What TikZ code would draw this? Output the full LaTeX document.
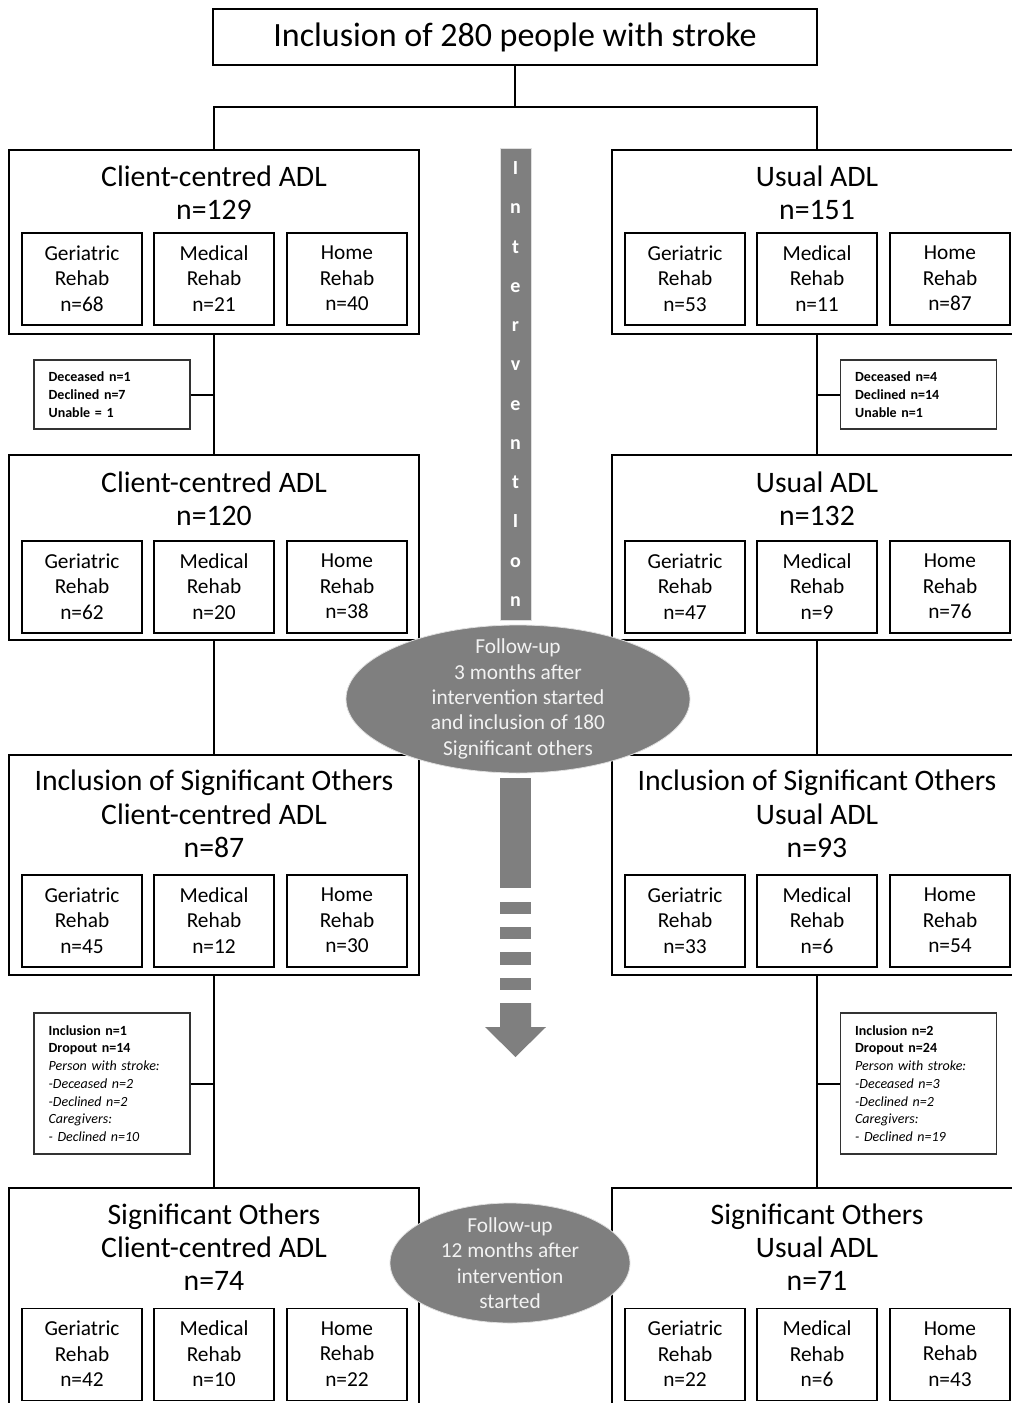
\documentclass[tikz,border=0pt]{standalone}
\usepackage{fontspec}
\setmainfont{Carlito}
\usepackage{tikz}
\usetikzlibrary{shapes.geometric}
\definecolor{flowgray}{RGB}{127,127,127}
\definecolor{ovaltext}{RGB}{242,242,242}

\begin{document}
\begin{tikzpicture}[x=0.75pt,y=-0.75pt,
                grp/.style={rectangle, draw, line width=1.5pt, minimum width=307.5pt},
                sub/.style={rectangle, draw, line width=0.8pt, minimum width=90pt, minimum height=69pt,
                            inner sep=0pt, align=center, font=\fontsize{16}{19}\selectfont,
                            execute at begin node=\rule{0pt}{12pt}, execute at end node=\rule[-1pt]{0pt}{1pt}},
                head/.style={align=center, font=\fontsize{22.3}{25}\selectfont},
                drop/.style={rectangle, draw=black!80, line width=0.8pt, minimum width=117pt,
                             text width=95pt, inner xsep=11pt, align=left, font=\fontsize{10.5}{13.3}\selectfont},
                oval/.style={ellipse, fill=flowgray, draw=white!75!flowgray, line width=0.6pt},
                ovaltxt/.style={text=ovaltext, align=center, font=\fontsize{16}{19}\selectfont},
                bar/.style={rectangle, fill=flowgray, draw=white!75!flowgray, line width=0.5pt, inner sep=0pt,
                            minimum width=23.25pt, minimum height=354pt, text=white, align=center,
                            font=\bfseries\fontsize{15}{29.45}\selectfont},
                link/.style={line width=1.5pt}]
                \useasboundingbox (0,0) rectangle (1011,1403);
                % top of the flow
                \node [rectangle, draw, line width=1.5pt, minimum width=453pt, minimum height=42pt,
                       font=\fontsize{25.5}{28}\selectfont] (incl) at (515,37) {Inclusion of 280 people with stroke};
                \coordinate (split) at (515,107);
                % intervention bar
                \node [bar] (bar) at (515.5,384) {I\\n\\t\\e\\r\\v\\e\\n\\t\\I\\o\\n};
                % start of the intervention
                \node [grp, minimum height=138pt] (cc1) at (214,242) {};
                \node [head] (cc1h) at (214,193) {Client-centred ADL\\n=129};
                \node [sub] (cc1g) at (82,279) {Geriatric\\Rehab\\n=68};
                \node [sub] (cc1m) at (214,279) {Medical\\Rehab\\n=21};
                \node [sub] (cc1r) at (347,279) {Home\\Rehab\\n=40};
                \node [grp, minimum height=138pt] (ua1) at (817,242) {};
                \node [head] (ua1h) at (817,193) {Usual ADL\\n=151};
                \node [sub] (ua1g) at (685,279) {Geriatric\\Rehab\\n=53};
                \node [sub] (ua1m) at (817,279) {Medical\\Rehab\\n=11};
                \node [sub] (ua1r) at (950,279) {Home\\Rehab\\n=87};
                % dropouts before 3 months
                \node [drop, minimum height=51.75pt] (dl1) at (112,394.5)
                      {\textbf{Deceased n=1}\\\textbf{Declined n=7}\\\textbf{Unable = 1}};
                \node [drop, minimum height=51.75pt] (dr1) at (918.5,394.5)
                      {\textbf{Deceased n=4}\\\textbf{Declined n=14}\\\textbf{Unable n=1}};
                % 3 months
                \node [grp, minimum height=138.75pt] (cc2) at (214,547.5) {};
                \node [head] (cc2h) at (214,498.5) {Client-centred ADL\\n=120};
                \node [sub] (cc2g) at (82,587) {Geriatric\\Rehab\\n=62};
                \node [sub] (cc2m) at (214,587) {Medical\\Rehab\\n=20};
                \node [sub] (cc2r) at (347,587) {Home\\Rehab\\n=38};
                \node [grp, minimum height=138.75pt] (ua2) at (817,547.5) {};
                \node [head] (ua2h) at (817,498.5) {Usual ADL\\n=132};
                \node [sub] (ua2g) at (685,587) {Geriatric\\Rehab\\n=47};
                \node [sub] (ua2m) at (817,587) {Medical\\Rehab\\n=9};
                \node [sub] (ua2r) at (950,587) {Home\\Rehab\\n=76};
                % significant others included
                \node [grp, minimum height=165pt] (so3l) at (214,865) {};
                \node [head] (so3lh) at (214,814) {Inclusion of Significant Others\\Client-centred ADL\\n=87};
                \node [sub] (so3lg) at (82,921) {Geriatric\\Rehab\\n=45};
                \node [sub] (so3lm) at (214,921) {Medical\\Rehab\\n=12};
                \node [sub] (so3lr) at (347,921) {Home\\Rehab\\n=30};
                \node [grp, minimum height=165pt] (so3r) at (817,865) {};
                \node [head] (so3rh) at (817,814) {Inclusion of Significant Others\\Usual ADL\\n=93};
                \node [sub] (so3rg) at (685,921) {Geriatric\\Rehab\\n=33};
                \node [sub] (so3rm) at (817,921) {Medical\\Rehab\\n=6};
                \node [sub] (so3rr) at (950,921) {Home\\Rehab\\n=54};
                % dropouts before 12 months
                \node [drop, minimum height=105.75pt] (dl3) at (112,1083.5)
                      {\textbf{Inclusion n=1}\\\textbf{Dropout n=14}\\\textit{Person with stroke:}\\
                       \textit{-Deceased n=2}\\\textit{-Declined n=2}\\\textit{Caregivers:}\\\textit{- Declined n=10}};
                \node [drop, minimum height=105.75pt] (dr3) at (918.5,1083.5)
                      {\textbf{Inclusion n=2}\\\textbf{Dropout n=24}\\\textit{Person with stroke:}\\
                       \textit{-Deceased n=3}\\\textit{-Declined n=2}\\\textit{Caregivers:}\\\textit{- Declined n=19}};
                % 12 months
                \node [grp, minimum height=168pt] (so4l) at (214,1300) {};
                \node [head] (so4lh) at (214,1247) {Significant Others\\Client-centred ADL\\n=74};
                \node [sub] (so4lg) at (82,1354.5) {Geriatric\\Rehab\\n=42};
                \node [sub] (so4lm) at (214,1354.5) {Medical\\Rehab\\n=10};
                \node [sub] (so4lr) at (347,1354.5) {Home\\Rehab\\n=22};
                \node [grp, minimum height=168pt] (so4r) at (817,1300) {};
                \node [head] (so4rh) at (817,1247) {Significant Others\\Usual ADL\\n=71};
                \node [sub] (so4rg) at (685,1354.5) {Geriatric\\Rehab\\n=22};
                \node [sub] (so4rm) at (817,1354.5) {Medical\\Rehab\\n=6};
                \node [sub] (so4rr) at (950,1354.5) {Home\\Rehab\\n=43};
                % connectors
                \draw [link] (incl.south) -- (split);
                \draw [link] (cc1.north) |- (split) -| (ua1.north);
                \draw [link] (cc1.south) -- (cc2.north);
                \draw [link] (ua1.south) -- (ua2.north);
                \draw [link] (cc2.south) -- (so3l.north);
                \draw [link] (ua2.south) -- (so3r.north);
                \draw [link] (so3l.south) -- (so4l.north);
                \draw [link] (so3r.south) -- (so4r.north);
                \draw [link] (dl1.east) -- (dl1.east -| cc1.south);
                \draw [link] (dr1.west) -- (dr1.west -| ua1.south);
                \draw [link] (dl3.east) -- (dl3.east -| so3l.south);
                \draw [link] (dr3.west) -- (dr3.west -| so3r.south);
                % dashed arrow after 3 months
                \fill [flowgray] (500,778) rectangle (531,888);
                \fill [flowgray] (500,902) rectangle (531,914);
                \fill [flowgray] (500,927) rectangle (531,939);
                \fill [flowgray] (500,952) rectangle (531,965);
                \fill [flowgray] (500,978) rectangle (531,990);
                \fill [flowgray] (500,1003) -- (531,1003) -- (531,1027) -- (546,1027) -- (515.5,1057)
                                 -- (485,1027) -- (500,1027) -- cycle;
                % follow-ups
                \node [oval, minimum width=258pt, minimum height=111pt] (fu3) at (518,699) {};
                \node [ovaltxt] (fu3t) at (fu3.center)
                      {Follow-up\\3 months after\\intervention started\\and inclusion of 180\\Significant others};
                \node [oval, minimum width=180pt, minimum height=90pt] (fu12) at (510,1263) {};
                \node [ovaltxt] (fu12t) at (fu12.center) {Follow-up\\12 months after\\intervention\\started};
        \end{tikzpicture}
\end{document}
